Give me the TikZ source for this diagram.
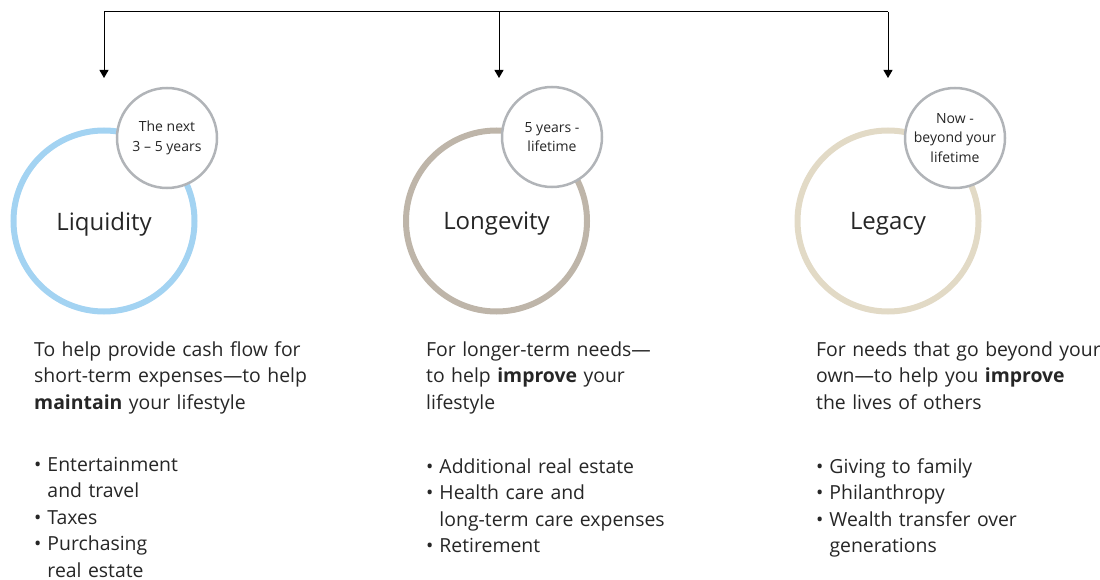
\documentclass[tikz,border=0pt]{standalone}
\usepackage{fontspec}
\setmainfont{Open Sans}
\usetikzlibrary{arrows.meta}
\usetikzlibrary{positioning}
\definecolor{liqblue}{HTML}{A3D3F2}
\definecolor{lonstone}{HTML}{BEB5A9}
\definecolor{legsand}{HTML}{E2DAC6}
\definecolor{timegray}{HTML}{B1B4B8}
\definecolor{inkgray}{HTML}{262626}
\newcommand{\bul}{•\hspace{6pt}}
\newcommand{\bulgap}{\hphantom{\bul}}

\begin{document}
\begin{tikzpicture}[x=1pt,y=-1pt,
    every node/.style={inner sep=0pt,text=inkgray},
    bigring/.style={circle,minimum size=181pt,line width=6pt,text depth=0pt,
        font=\fontsize{24}{28}\selectfont},
    timering/.style={circle,minimum size=100pt,line width=2.5pt,draw=timegray,
        fill=white,align=center,font=\fontsize{14}{19.5}\selectfont},
    bodytext/.style={anchor=base west,text width=300pt,align=left,
        font=\fontsize{19.4}{26.5}\selectfont}]
    \useasboundingbox (0,0) rectangle (1100,580);
    % big rings
    \node[bigring,draw=liqblue] (liq) at (104,221) {Liquidity};
    \node[bigring,draw=lonstone] (lon) at (496.5,221) {Longevity};
    \node[bigring,draw=legsand] (leg) at (888,221) {Legacy};
    % time horizons
    \node[timering] (liqtime) at (167,138) {The next\\3 -- 5 years};
    \node[timering] (lontime) at (552,137) {5 years -\\lifetime};
    \node[timering] (legtime) at (955,138) {Now -\\beyond your\\lifetime};
    % feed line
    \coordinate (liqtop) at (104,12);
    \coordinate (lontop) at (499,12);
    \coordinate (legtop) at (888,12);
    \draw[line width=1pt] (liqtop) -- (legtop);
    \foreach \c/\x in {liq/104,lon/499,leg/888}{
        \coordinate (\c in) at (\x,78);
        \draw[line width=1pt,-{Triangle[width=9pt,length=8pt]}] (\c top) -- (\c in);
    }
    % descriptions
    \node[bodytext] (liqtext) at (34,356) {To help provide cash flow for\\
        short-term expenses---to help\\\textbf{maintain} your lifestyle};
    \node[bodytext] (liqlist) at (34,471) {\bul Entertainment\\\bulgap and travel\\
        \bul Taxes\\\bul Purchasing\\\bulgap real estate};
    \node[bodytext] (lontext) at (426,356) {For longer-term needs---\\
        to help \textbf{improve} your\\lifestyle};
    \node[bodytext] (lonlist) at (426,473) {\bul Additional real estate\\
        \bul Health care and\\\bulgap long-term care expenses\\\bul Retirement};
    \node[bodytext] (legtext) at (816,356) {For needs that go beyond your\\
        own---to help you \textbf{improve}\\the lives of others};
    \node[bodytext] (leglist) at (816,473) {\bul Giving to family\\\bul Philanthropy\\
        \bul Wealth transfer over\\\bulgap generations};
\end{tikzpicture}
\end{document}
